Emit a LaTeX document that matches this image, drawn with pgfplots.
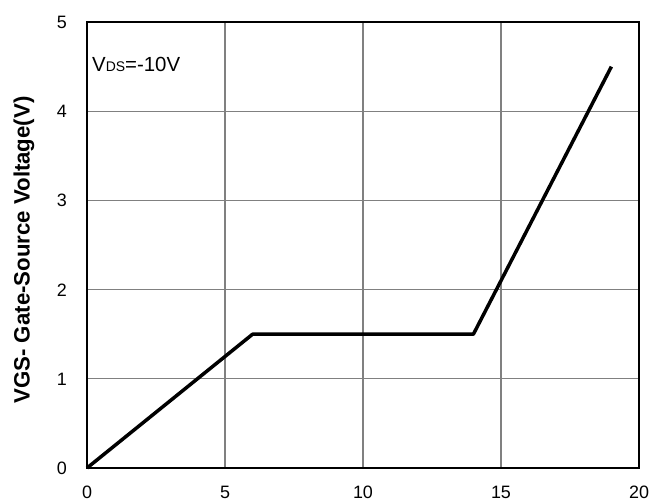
\documentclass[border=0pt]{standalone}
\usepackage{pgfplots}
\pgfplotsset{compat=1.18}
\usepackage{fontspec}
\setmainfont{Liberation Sans}
\usetikzlibrary{calc}
\begin{document}
\begin{tikzpicture}
\begin{axis}[
  scale only axis,
  width=552bp, height=446bp,
  xmin=0, xmax=20, ymin=0, ymax=5,
  xtick={0,5,10,15,20}, ytick={0,1,2,3,4,5},
  grid=major,
  major grid style={draw=black!50, line width=1.2bp},
  axis line style={line width=2bp, black},
  major tick length=0pt,
  tick label style={font=\fontsize{18}{21}\selectfont, inner sep=0pt},
  /pgf/number format/assume math mode=true,
  xticklabel style={anchor=north, text height=13bp, text depth=0bp, yshift=-17bp},
  yticklabel style={anchor=east, text height=13bp, text depth=0bp, xshift=-20bp},
  ylabel={VGS- Gate-Source Voltage(V)},
  ylabel style={font=\fontsize{22.3}{26}\selectfont\bfseries, at={(axis description cs:0,0.5)}, anchor=center, xshift=-5bp, yshift=63bp},
  clip=false,
]
\addplot[black, line width=3.5bp, line join=round] coordinates {(0,0) (6,1.5) (14,1.5) (19,4.5)};
\node[anchor=base west, inner sep=0pt, font=\fontsize{20.5}{24}\selectfont] at (axis cs:0.18,4.44) {V{\fontsize{14}{16}\selectfont DS}=-10V};
\end{axis}
\pgfresetboundingbox
\path[use as bounding box] ($(current axis.south west)+(-87bp,-34bp)$) rectangle ($(current axis.north east)+(23bp,22bp)$);
\end{tikzpicture}
\end{document}
